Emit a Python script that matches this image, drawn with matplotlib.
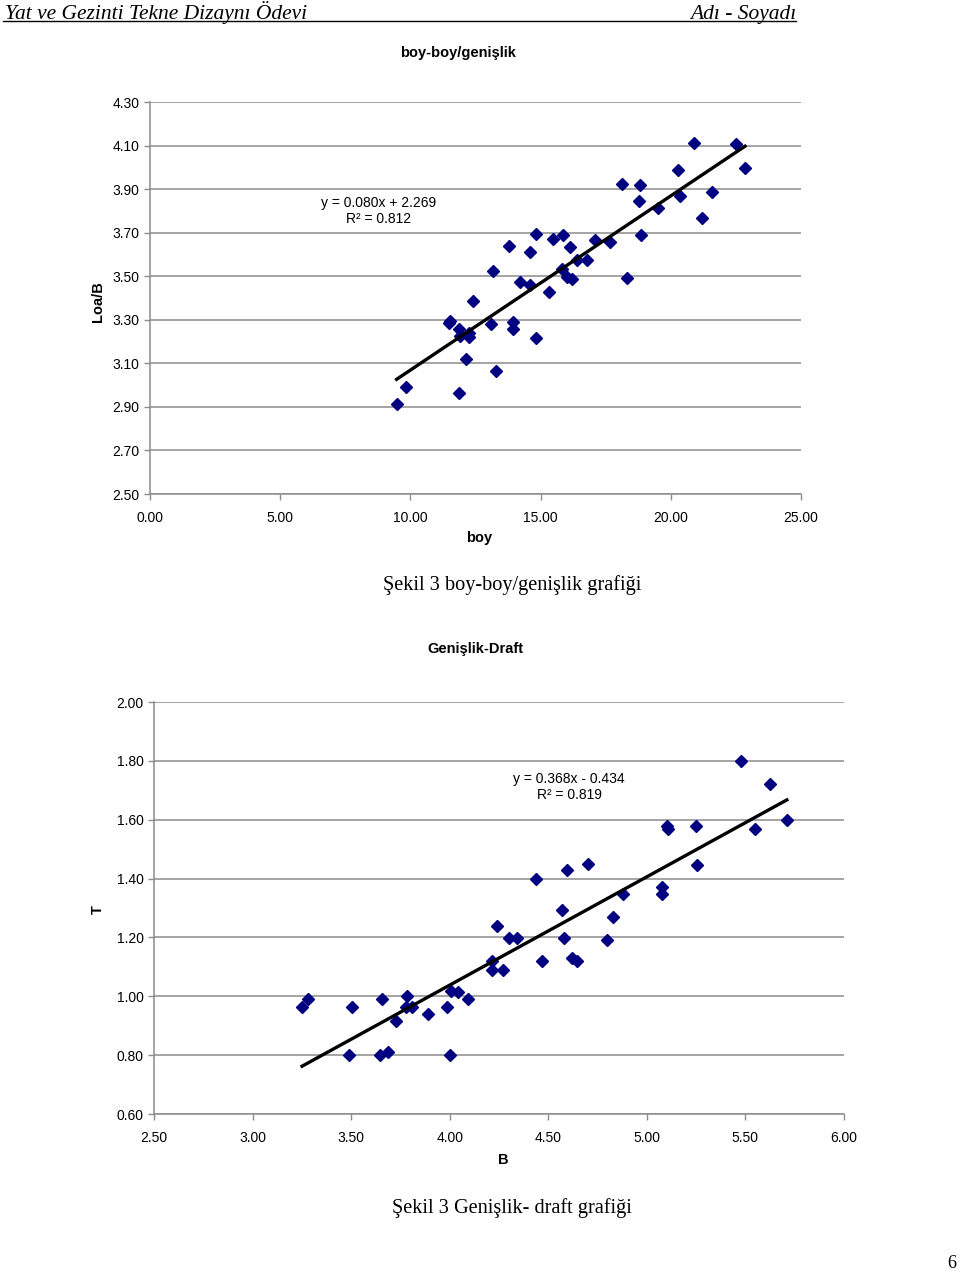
import numpy as np
import matplotlib.pyplot as plt

W, H = 960, 1271
NAVY = "#000080"
GRID = "#8c8c8c"
SANS = "Liberation Sans"
SERIF = "Liberation Serif"

# ── chart 1: boy vs boy/genişlik ─────────────────────────────────────────
boy = [9.47, 9.83, 11.87, 12.15, 13.30, 11.52, 11.47, 11.88, 11.90, 12.26,
       12.25, 12.40, 13.08, 13.94, 13.93, 14.81, 15.33, 14.21, 14.58, 13.17,
       15.81, 16.00, 16.22, 18.33, 16.40, 16.79, 13.79, 14.60, 16.14, 14.81,
       15.49, 15.86, 17.08, 17.68, 18.87, 21.21, 19.50, 18.78, 20.35, 21.57,
       18.14, 18.83, 20.29, 22.85, 20.90, 22.52]
loa_b = [2.913, 2.993, 2.965, 3.120, 3.065, 3.294, 3.285, 3.258, 3.224, 3.222,
         3.239, 3.388, 3.281, 3.291, 3.258, 3.216, 3.426, 3.472, 3.458, 3.524,
         3.535, 3.496, 3.489, 3.493, 3.574, 3.574, 3.637, 3.612, 3.633, 3.692,
         3.671, 3.688, 3.666, 3.658, 3.688, 3.766, 3.812, 3.845, 3.870, 3.885,
         3.923, 3.919, 3.989, 3.997, 4.113, 4.106]
fit1 = (0.080, 2.269)
r2_1 = 0.812

# ── chart 2: genişlik (B) vs draft (T) ───────────────────────────────────
B = [3.251, 3.281, 3.503, 3.489, 3.648, 3.686, 3.658, 3.729, 3.784, 3.779,
     3.809, 3.892, 3.987, 4.000, 4.008, 4.041, 4.092, 4.216, 4.216, 4.271,
     4.239, 4.299, 4.339, 4.438, 4.470, 4.570, 4.579, 4.597, 4.619, 4.646,
     4.700, 4.798, 4.827, 4.878, 5.079, 5.079, 5.101, 5.109, 5.248, 5.256,
     5.478, 5.548, 5.627, 5.710]
T = [0.965, 0.990, 0.965, 0.800, 0.800, 0.812, 0.990, 0.917, 1.000, 0.965,
     0.965, 0.940, 0.965, 0.800, 1.019, 1.016, 0.990, 1.119, 1.089, 1.089,
     1.240, 1.199, 1.199, 1.400, 1.119, 1.294, 1.199, 1.430, 1.130, 1.119,
     1.449, 1.190, 1.269, 1.349, 1.370, 1.348, 1.579, 1.567, 1.579, 1.447,
     1.800, 1.569, 1.720, 1.599]
fit2 = (0.368, -0.434)
r2_2 = 0.819


def px(x, y):
    return x / W, 1 - y / H


def style_axes(ax):
    ax.grid(axis="y", color=GRID, linewidth=1.1)
    ax.set_axisbelow(True)
    for s in ("top", "right"):
        ax.spines[s].set_visible(False)
    for s in ("left", "bottom"):
        ax.spines[s].set_color(GRID)
        ax.spines[s].set_linewidth(1.1)
    ax.tick_params(colors=GRID, labelcolor="black", length=4, width=1,
                   labelsize=10)
    for lbl in ax.get_xticklabels() + ax.get_yticklabels():
        lbl.set_family(SANS)


def scatter_fit(ax, x, y, fit):
    ax.plot(x, y, linestyle="none", marker="D", markersize=6,
            color=NAVY, markeredgecolor=NAVY, zorder=3)
    xs = np.array([min(x), max(x)])
    ax.plot(xs, fit[0] * xs + fit[1], color="black", linewidth=2.4, zorder=4)


fig = plt.figure(figsize=(W / 100, H / 100), dpi=100)

# header
fig.text(*px(5, 19), "Yat ve Gezinti Tekne Dizaynı Ödevi", family=SERIF,
         style="italic", fontsize=15.5, va="baseline", ha="left")
fig.text(*px(796, 19), "Adı - Soyadı", family=SERIF, style="italic",
         fontsize=15.5, va="baseline", ha="right")
fig.add_artist(plt.Line2D([3 / W, 796 / W], [1 - 21 / H] * 2,
                          color="black", linewidth=1))

# chart 1
ax1 = fig.add_axes([150 / W, 1 - 494 / H, (801 - 150) / W, (494 - 102) / H])
scatter_fit(ax1, boy, loa_b, fit1)
ax1.set_xlim(0, 25)
ax1.set_ylim(2.5, 4.3)
ax1.set_xticks(np.arange(0, 25.01, 5))
ax1.set_yticks(np.arange(2.5, 4.31, 0.2))
ax1.xaxis.set_major_formatter("{x:.2f}")
ax1.yaxis.set_major_formatter("{x:.2f}")
style_axes(ax1)
ax1.tick_params(axis="x", pad=8)
fig.text(*px(458, 53), "boy-boy/genişlik", family=SANS, fontweight="bold",
         fontsize=10.5, ha="center", va="center")
fig.text(*px(479, 538), "boy", family=SANS, fontweight="bold",
         fontsize=10.5, ha="center", va="center")
fig.text(*px(98, 302), "Loa/B", family=SANS, fontweight="bold",
         fontsize=10.5, ha="center", va="center", rotation=90)
fig.text(*px(379, 211),
         f"y = {fit1[0]:.3f}x + {fit1[1]:.3f}\nR² = {r2_1:.3f}",
         family=SANS, fontsize=10, ha="center", va="center",
         linespacing=1.15)
fig.text(*px(512, 585), "Şekil 3 boy-boy/genişlik grafiği", family=SERIF,
         fontsize=14.6, ha="center", va="center")

# chart 2
ax2 = fig.add_axes([154 / W, 1 - 1114 / H, (844 - 154) / W, (1114 - 702) / H])
scatter_fit(ax2, B, T, fit2)
ax2.set_xlim(2.5, 6.0)
ax2.set_ylim(0.6, 2.0)
ax2.set_xticks(np.arange(2.5, 6.01, 0.5))
ax2.set_yticks(np.arange(0.6, 2.01, 0.2))
ax2.xaxis.set_major_formatter("{x:.2f}")
ax2.yaxis.set_major_formatter("{x:.2f}")
style_axes(ax2)
ax2.tick_params(axis="x", pad=8)
fig.text(*px(475, 649), "Genişlik-Draft", family=SANS, fontweight="bold",
         fontsize=10.5, ha="center", va="center")
fig.text(*px(503, 1160), "B", family=SANS, fontweight="bold",
         fontsize=10.5, ha="center", va="center")
fig.text(*px(98, 910), "T", family=SANS, fontweight="bold",
         fontsize=10.5, ha="center", va="center", rotation=90)
fig.text(*px(569, 787),
         f"y = {fit2[0]:.3f}x - {abs(fit2[1]):.3f}\nR² = {r2_2:.3f}",
         family=SANS, fontsize=10, ha="center", va="center",
         linespacing=1.15)
fig.text(*px(512, 1208), "Şekil 3 Genişlik- draft grafiği", family=SERIF,
         fontsize=14.6, ha="center", va="center")

fig.text(*px(952, 1263), "6", family=SERIF, fontsize=13,
         ha="center", va="center")

fig.savefig("out.png", dpi=100)
